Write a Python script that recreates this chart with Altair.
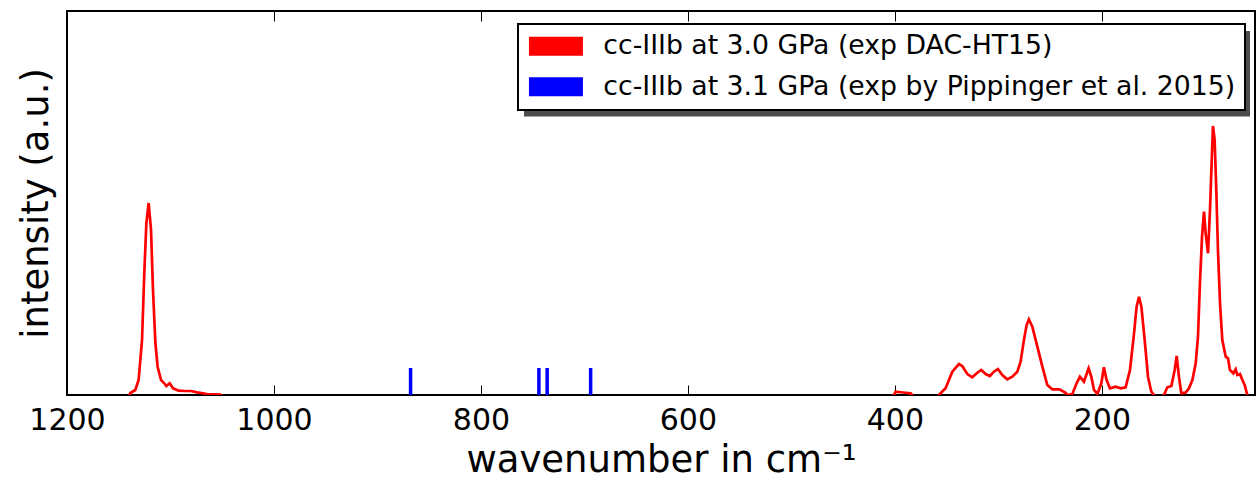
import altair as alt
import pandas as pd

# red experimental spectrum (wavenumber in cm^-1, intensity in a.u.)
red_wn = [1142, 1138.8, 1134, 1130.8, 1127.5, 1125.3, 1123.3, 1121.1, 1118.8, 1116.9,
          1114.6, 1112.4, 1109.1, 1106, 1104, 1100.8, 1097.5, 1092.1, 1086, 1080.1,
          1074.3, 1064.7, 1051.8, 1045, 404, 399.3, 392, 384.8, 378, 362,
          357.5, 351, 344.5, 338.1, 334.9, 330, 325.2, 320.4, 316.5, 312.3,
          308.2, 304.3, 300.4, 296.2, 291.4, 286.5, 281.7, 278.5, 275.3, 272.7,
          270.5, 267.2, 262.3, 257.5, 252.7, 247.8, 241.4, 239.8, 235, 233.4,
          228.5, 224.4, 221.2, 217.3, 212.8, 210.2, 207.6, 204.3, 200.5, 198,
          195.4, 192.2, 186.7, 181.8, 177, 172.8, 168.9, 166.4, 164.1, 161.8,
          158.6, 155.4, 152.2, 149.6, 146, 142, 140, 136.7, 132.8, 129.6,
          127.7, 125.5, 123.2, 119.1, 115.8, 112.5, 109.3, 107.1, 105.2, 103.2,
          101.3, 99.7, 97.4, 95.5, 93.8, 92.6, 91, 89.3, 87.8, 85.8,
          83.6, 80.3, 78.1, 76.2, 72.9, 70.7, 69.1, 66.5, 64.2, 62,
          59.4, 56, 52]
red_int = [-6, 2, 5, 15, 55, 122, 172, 192, 165, 105,
           52, 28, 15, 11.7, 9, 11.7, 6.7, 4.3, 4, 4,
           2.7, 1, 0.5, -6, -6, 3.3, 2.5, 1.7, -6, -6,
           0, 6.7, 23.3, 31, 29, 21, 17.7, 22.3, 25, 21,
           19, 23.3, 26, 20, 15.7, 18.3, 23.3, 33.3, 55, 70,
           75.7, 68.3, 48.3, 28.3, 10, 5.7, 5.7, 5, 2.3, 0,
           1, 11.7, 18.3, 13.3, 26.7, 18.3, 5, 1, 11.7, 27.7,
           15, 6.7, 8.3, 6.7, 7.7, 25, 61.7, 88.3, 98.3, 88.3,
           55, 18.3, 3.3, 0, -6, -6, 0, 7.7, 9, 25,
           39, 18.3, 1.7, 2.3, 6.7, 15, 31.7, 58.3, 111.7, 158.3,
           183.3, 161.7, 141.7, 185, 235, 269, 255, 201.7, 145, 91.7,
           55, 38.3, 36.7, 25, 21.7, 25.7, 20, 21, 15, 10,
           0, -6, -6]

# blue reference lines
blue_wn = [868, 744, 736, 694]
blue_int = [27, 27, 27, 27]

series = ["cc-IIIb at 3.0 GPa (exp DAC-HT15)",
          "cc-IIIb at 3.1 GPa (exp by Pippinger et al. 2015)"]
colors = ["#ff0000", "#0000ff"]
x_ticks = [1200, 1000, 800, 600, 400, 200]

red_df = pd.DataFrame({"wn": red_wn, "I": red_int, "s": series[0]})
blue_df = pd.DataFrame({"wn": blue_wn, "I": blue_int, "zero": [0] * len(blue_wn), "s": series[1]})

xscale = alt.Scale(domain=[1200, 52], nice=False, zero=False)
yscale = alt.Scale(domain=[0, 384], nice=False, zero=False)

y_axis = alt.Axis(title="intensity (a.u.)", labels=False, ticks=False, domain=False,
                  grid=False, titleFontSize=37, titlePadding=12)

# legend patch: a stack of overlapping horizontal strokes forming a solid 54x19 block
patch_path = "".join(f"M-54,{k}H54" for k in range(-17, 18, 2))

color = alt.Color(
    "s:N",
    scale=alt.Scale(domain=series, range=colors),
    legend=alt.Legend(
        title=None, orient="none", legendX=451, legendY=13, padding=9,
        strokeColor="black", fillColor="white", cornerRadius=0,
        symbolType=patch_path, symbolSize=1, symbolStrokeWidth=2,
        symbolOpacity=1, symbolOffset=15.6,
        labelFontSize=26.7, labelFont="DejaVu Sans", labelColor="black",
        labelLimit=1000, labelOffset=34, rowPadding=12.3,
    ),
)

shadow = alt.Chart(pd.DataFrame({"k": [0]})).mark_rect(color="#4d4d4d", clip=False).encode(
    x=alt.value(457), x2=alt.value(1183), y=alt.value(20), y2=alt.value(105.5)
)

line = alt.Chart(red_df).mark_line(strokeWidth=2.7, clip=True).encode(
    x=alt.X("wn:Q", scale=xscale,
            axis=alt.Axis(title="wavenumber in cm⁻¹", values=x_ticks, orient="bottom",
                          format="d", labelFlush=False,
                          offset=-10, tickSize=10, tickWidth=1, domain=False, grid=False,
                          labelFontSize=30, labelPadding=10, titleFontSize=37,
                          titlePadding=7)),
    y=alt.Y("I:Q", scale=yscale, axis=y_axis),
    color=color,
)

sticks = alt.Chart(blue_df).mark_rule(strokeWidth=3.5, clip=True).encode(
    x=alt.X("wn:Q", scale=xscale,
            axis=alt.Axis(title=None, values=x_ticks, orient="top", offset=-10,
                          format="d", labelFlush=False,
                          tickSize=10, tickWidth=1, labels=False, domain=False, grid=False)),
    y=alt.Y("zero:Q", scale=yscale, axis=y_axis),
    y2="I:Q",
    color=color,
)

chart = alt.layer(shadow, line, sticks).resolve_axis(x="independent").properties(
    width=1188, height=384,
    autosize=alt.AutoSizeParams(type="none"),
    padding={"left": 67, "top": 11, "right": 1, "bottom": 91},
    background="white",
).configure_view(stroke="black", strokeWidth=2).configure_axis(
    labelFont="DejaVu Sans", titleFont="DejaVu Sans", labelColor="black",
    titleColor="black", tickColor="black", titleFontWeight="normal",
).configure_legend(strokeWidth=2)

chart.save("out.html", embed_options={"renderer": "svg", "actions": False})
